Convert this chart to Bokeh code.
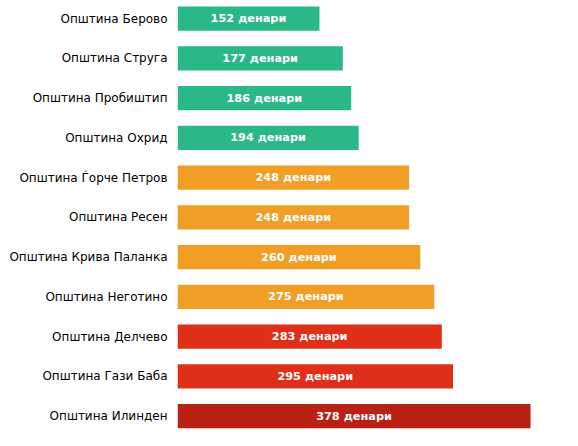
from bokeh.plotting import figure
from bokeh.models import ColumnDataSource, Range1d, FixedTicker
from bokeh.core.properties import value
from bokeh.embed import file_html
from bokeh.resources import INLINE

municipalities = [
    "Општина Берово", "Општина Струга", "Општина Пробиштип", "Општина Охрид",
    "Општина Ѓорче Петров", "Општина Ресен", "Општина Крива Паланка",
    "Општина Неготино", "Општина Делчево", "Општина Гази Баба", "Општина Илинден",
]
prices = [152, 177, 186, 194, 248, 248, 260, 275, 283, 295, 378]
colors = ["#29b886", "#29b886", "#29b886", "#29b886",
          "#f09e26", "#f09e26", "#f09e26", "#f09e26",
          "#df2f18", "#df2f18", "#b92115"]
unit = "денари"

n = len(municipalities)
pos = [n - 1 - i for i in range(n)]
src = ColumnDataSource(dict(
    pos=pos,
    val=prices,
    mid=[v / 2 for v in prices],
    color=colors,
    label=[f"{v} {unit}" for v in prices],
))

p = figure(width=570, height=438, output_backend="svg", toolbar_location=None,
           y_range=Range1d(-0.561, 10.455), x_range=Range1d(0, 420.8),
           min_border_left=177, min_border_right=0, min_border_top=0, min_border_bottom=0)

p.hbar(y="pos", right="val", left=0, height=0.611, color="color", source=src, line_color=None)
p.text(x="mid", y="pos", text="label", source=src, text_color="white",
       text_align="center", text_baseline="middle", text_font=value("DejaVu Sans"),
       text_font_style="bold", text_font_size="11.3px")

p.xaxis.visible = False
p.yaxis.ticker = FixedTicker(ticks=pos)
p.yaxis.major_label_overrides = {pp: m for pp, m in zip(pos, municipalities)}
p.yaxis.axis_line_color = None
p.yaxis.major_tick_line_color = None
p.yaxis.minor_tick_line_color = None
p.yaxis.major_tick_out = 0
p.yaxis.major_tick_in = 0
p.yaxis.major_label_standoff = 10
p.yaxis.major_label_text_font = "DejaVu Sans"
p.yaxis.major_label_text_font_size = "12px"
p.yaxis.major_label_text_color = "#000000"
p.xgrid.visible = False
p.ygrid.visible = False
p.outline_line_color = None

open("out.html", "w").write(file_html(p, INLINE))
